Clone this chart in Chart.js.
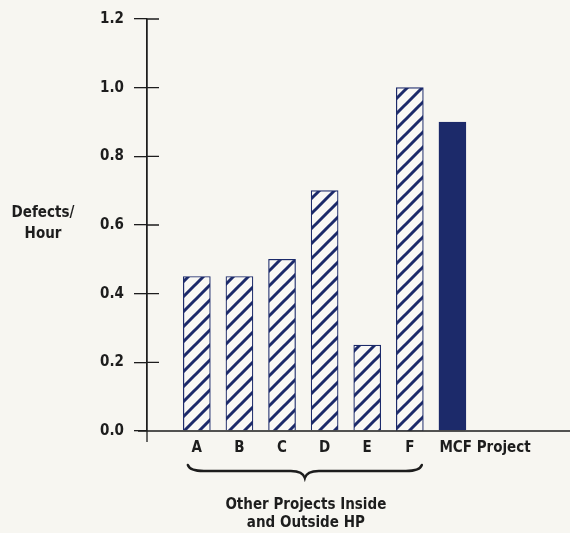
<!DOCTYPE html>
<html>
<head>
<meta charset="utf-8">
<script src="https://cdn.jsdelivr.net/npm/chart.js@4/dist/chart.umd.min.js"></script>
<style>
html,body{margin:0;padding:0;background:#f7f6f1;}
canvas{display:block;}
</style>
</head>
<body>
<canvas id="c" width="570" height="533"></canvas>
<script>
// ---- data ----
const categories = ['A', 'B', 'C', 'D', 'E', 'F', 'MCF Project'];
const defectsPerHour = [0.45, 0.45, 0.50, 0.70, 0.25, 1.00, 0.90];
const hatched = [true, true, true, true, true, true, false];
const yTickLabels = ['0.0', '0.2', '0.4', '0.6', '0.8', '1.0', '1.2'];
const yTitle = ['Defects/', 'Hour'];
const groupNote = ['Other Projects Inside', 'and Outside HP'];

// ---- styles ----
const NAVY = '#1c2a6a';
const INK = '#1d1d1d';
const BG = '#f7f6f1';
const FONT = "'DejaVu Sans Condensed', 'Liberation Sans', sans-serif";

function makeHatch() {
  const s = 15;
  const t = document.createElement('canvas');
  t.width = s; t.height = s;
  const g = t.getContext('2d');
  g.fillStyle = '#f9f8f5';
  g.fillRect(0, 0, s, s);
  g.strokeStyle = NAVY;
  g.lineWidth = 3;
  g.beginPath();
  g.moveTo(-3, s + 3); g.lineTo(s + 3, -3);
  g.moveTo(-3, 3); g.lineTo(3, -3);
  g.moveTo(s - 3, s + 3); g.lineTo(s + 3, s - 3);
  g.stroke();
  return g.createPattern(t, 'repeat');
}
const hatch = makeHatch();

const points = categories.map((c, i) => ({ x: i + 1, y: defectsPerHour[i] }));

const decor = {
  id: 'decor',
  beforeDraw(chart) {
    const ctx = chart.ctx;
    ctx.save();
    ctx.fillStyle = BG;
    ctx.fillRect(0, 0, chart.width, chart.height);
    ctx.restore();
  },
  afterDraw(chart) {
    const ctx = chart.ctx;
    const xs = chart.scales.x, ys = chart.scales.y;
    const a = chart.chartArea;
    const y0 = ys.getPixelForValue(0);
    ctx.save();
    ctx.strokeStyle = INK;
    ctx.lineWidth = 1.3;
    ctx.beginPath();
    ctx.moveTo(a.left - 9, y0); ctx.lineTo(chart.width, y0);
    ctx.moveTo(a.left, a.top); ctx.lineTo(a.left, y0 + 11);
    ys.ticks.forEach(t => {
      const py = ys.getPixelForValue(t.value);
      ctx.moveTo(a.left, py); ctx.lineTo(a.left + 12, py);
    });
    ctx.stroke();

    ctx.fillStyle = INK;
    ctx.font = 'bold 15px ' + FONT;
    ctx.textBaseline = 'alphabetic';
    categories.forEach((c, i) => {
      const px = xs.getPixelForValue(i + 1);
      if (c.length > 1) {
        ctx.textAlign = 'left';
        ctx.fillText(c, px - 13, y0 + 21);
      } else {
        ctx.textAlign = 'center';
        ctx.fillText(c, px, y0 + 21);
      }
    });

    const x1 = xs.getPixelForValue(1) - 9;
    const x2 = xs.getPixelForValue(6) + 12;
    const cx = (x1 + x2) / 2;
    const yb0 = y0 + 34, yb1 = y0 + 40, yb2 = y0 + 47;
    ctx.lineWidth = 2.4;
    ctx.lineCap = 'round';
    ctx.beginPath();
    ctx.moveTo(x1, yb0);
    ctx.quadraticCurveTo(x1 + 2, yb1, x1 + 16, yb1);
    ctx.lineTo(cx - 14, yb1);
    ctx.quadraticCurveTo(cx - 2, yb1, cx, yb2);
    ctx.quadraticCurveTo(cx + 2, yb1, cx + 14, yb1);
    ctx.lineTo(x2 - 16, yb1);
    ctx.quadraticCurveTo(x2 - 2, yb1, x2, yb0);
    ctx.stroke();

    ctx.textAlign = 'center';
    ctx.fillText(groupNote[0], cx + 1, y0 + 78);
    ctx.fillText(groupNote[1], cx + 1, y0 + 96);

    ctx.fillText(yTitle[0], 43, 217);
    ctx.fillText(yTitle[1], 43, 238);
    ctx.restore();
  }
};

new Chart(document.getElementById('c'), {
  type: 'bar',
  data: {
    datasets: [{
      data: points,
      backgroundColor: hatched.map(h => h ? hatch : NAVY),
      borderColor: NAVY,
      borderWidth: 1.2,
      barThickness: 27
    }]
  },
  options: {
    responsive: false,
    animation: false,
    devicePixelRatio: 1,
    layout: { padding: { left: 0, right: 0, top: 16, bottom: 102 } },
    plugins: { legend: { display: false }, tooltip: { enabled: false } },
    scales: {
      x: { type: 'linear', display: false, min: -0.17, max: 9.76, offset: false },
      y: {
        min: 0, max: 1.2,
        afterFit(s) { s.width = 147; },
        afterBuildTicks(s) { s.ticks = yTickLabels.map(l => ({ value: parseFloat(l) })); },
        ticks: {
          callback: (v, i) => yTickLabels[i],
          color: INK,
          padding: 10,
          font: { family: FONT, size: 15, weight: 'bold' }
        },
        grid: { drawOnChartArea: false, drawTicks: true, tickLength: 13, color: INK, lineWidth: 1.3 },
        border: { display: true, color: INK, width: 1.3 }
      }
    }
  },
  plugins: [decor]
});
</script>
</body>
</html>
